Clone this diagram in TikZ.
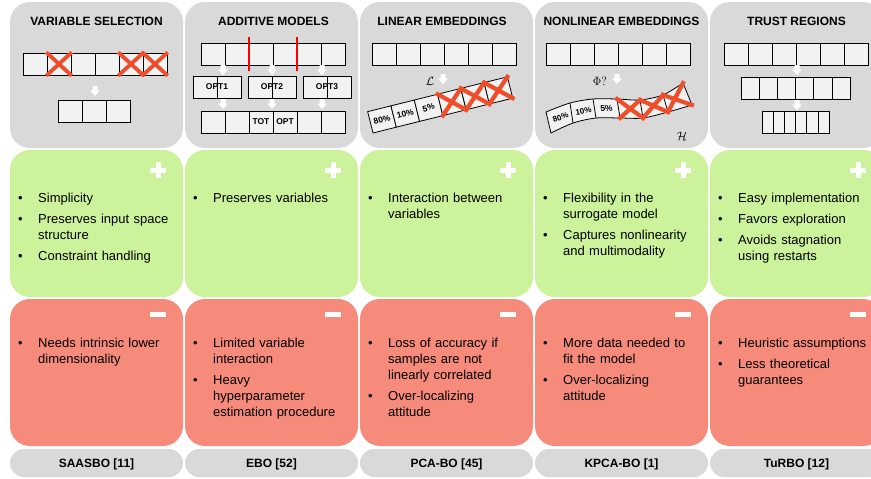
\documentclass[tikz,border=0pt]{standalone}
\usepackage{fontspec}
\setmainfont{Liberation Sans}
\usetikzlibrary{positioning}

\definecolor{panelgray}{HTML}{D9D9D9}
\definecolor{progreen}{HTML}{CCF29B}
\definecolor{consred}{HTML}{F68B7B}
\definecolor{cellgray}{HTML}{F2F2F2}
\definecolor{crossred}{HTML}{F04E2A}

% a row of #3 boxes of width #4, top left corner at (#1,#2)
\newcommand{\cellrow}[4]{\foreach \k in {1,...,#3} \draw[cell] ({#1+(\k-1)*#4},#2) rectangle ++(#4,22);}
% small block arrow pointing down, tip below (#1,#2)
\newcommand{\hintarrow}[2]{\fill[hint] (#1,#2) ++(-2.5,0) -- ++(5,0) -- ++(0,4.5) -- ++(2.5,0) -- ++(-5,5.5) -- ++(-5,-5.5) -- ++(2.5,0) -- cycle;}
% one bullet point
\newcommand{\entry}[1]{\noindent\hangindent=20pt\hangafter=1\makebox[20pt][l]{\textbullet}#1\par\vspace{5pt}}

\begin{document}
\begin{tikzpicture}[x=1pt,y=-1pt,
  panel/.style={rounded corners=20pt},
  cell/.style={draw=black,fill=cellgray,line width=0.8pt},
  cross/.style={draw=crossred,line width=3.8pt,shorten <=-1pt,shorten >=-1pt},
  bigcross/.style={cross,line width=4.2pt,shorten <=-2pt,shorten >=-2pt},
  hint/.style={fill=white},
  head/.style={font=\bfseries\fontsize{12}{14}\selectfont},
  tag/.style={font=\bfseries\fontsize{8.5}{10}\selectfont,inner sep=0pt},
  sym/.style={font=\fontsize{13}{15}\selectfont,inner sep=0pt},
  points/.style={anchor=base west,text width=160pt,align=left,inner sep=0pt,
    font=\fontsize{13}{16}\selectfont},
  method/.style={anchor=base,font=\bfseries\fontsize{12}{14}\selectfont}]
  \useasboundingbox (0,0) rectangle (871,479);
  \clip (0,0) rectangle (871,479);
  \fill[white] (0,0) rectangle (871,479);

  % the five columns
  \foreach \x in {10,185,360,535,710} {
    \fill[panelgray,panel] (\x,2) rectangle ++(173,146);
    \fill[progreen,panel] (\x,150) rectangle ++(173,147);
    \fill[consred,panel] (\x,299) rectangle ++(173,147);
    \fill[panelgray,rounded corners=14pt] (\x,449) rectangle ++(173,28);
    % plus / minus marks
    \fill[white] (\x+140,167.5) rectangle ++(16,5);
    \fill[white] (\x+145.5,162) rectangle ++(5,16);
    \fill[white] (\x+140,311.5) rectangle ++(16,5);
  }

  \node[head] (h1) at (96.5,21) {VARIABLE SELECTION};
  \node[head] (h2) at (273.5,21) {ADDITIVE MODELS};
  \node[head] (h3) at (442,21) {LINEAR EMBEDDINGS};
  \node[head] (h4) at (621.5,21) {NONLINEAR EMBEDDINGS};
  \node[head] (h5) at (796.5,21) {TRUST REGIONS};

  % variable selection
  \cellrow{23}{53}{6}{24}
  \foreach \k in {1,4,5} {
    \draw[cross] ({23+24*\k},53) -- ++(24,22);
    \draw[cross] ({47+24*\k},53) -- ++(-24,22);
  }
  \hintarrow{95}{86}
  \cellrow{58}{100}{3}{24}

  % additive models
  \cellrow{201}{43}{6}{24}
  \draw[red,line width=1.2pt] (249,37) -- (249,71) (297,37) -- (297,71);
  \foreach \x/\a in {193/223,248/272,303/322} {
    \hintarrow{\a}{65}
    \cellrow{\x}{76}{2}{24}
    \hintarrow{\a}{99}
  }
  \node[tag] (opt1) at (217,87) {OPT1};
  \node[tag] (opt2) at (272,87) {OPT2};
  \node[tag] (opt3) at (327,87) {OPT3};
  \cellrow{201}{111}{6}{24}
  \node[tag] (tot) at (261,122) {TOT};
  \node[tag] (totopt) at (285,122) {OPT};

  % linear embeddings
  \cellrow{372}{43}{6}{24}
  \node[sym] (lmap) at (430,81) {$\mathcal{L}$};
  \hintarrow{443}{74}
  \begin{scope}[shift={(373,133)},rotate=14]
    \cellrow{0}{-22}{6}{24}
    \node[tag,rotate=14] (lin80) at (12,-11) {80\%};
    \node[tag,rotate=14] (lin10) at (36,-11) {10\%};
    \node[tag,rotate=14] (lin5) at (60,-11) {5\%};
    \foreach \k in {3,4,5} {
      \draw[bigcross] ({24*\k},0) -- ++(24,-22);
      \draw[bigcross] ({24*\k},-22) -- ++(24,22);
    }
  \end{scope}

  % nonlinear embeddings
  \cellrow{546}{43}{6}{24}
  \node[sym] (phimap) at (600,81) {$\Phi?$};
  \hintarrow{617}{74}
  \foreach \px/\py [count=\i from 0] in {546/112,570/103,593/99,617/99,640/100,663/95,683/83}
    \coordinate (t\i) at (\px,\py);
  \foreach \px/\py [count=\i from 0] in {551/133,573/123,596/118,620/118,643/118,668/112,692/105}
    \coordinate (b\i) at (\px,\py);
  \filldraw[cell] plot[smooth,tension=0.5] coordinates {(t0) (t1) (t2) (t3) (t4) (t5) (t6)}
    -- plot[smooth,tension=0.5] coordinates {(b6) (b5) (b4) (b3) (b2) (b1) (b0)} -- cycle;
  \foreach \k in {1,...,5} \draw[line width=0.8pt] (t\k) -- (b\k);
  \node[tag,rotate=20,font=\bfseries\fontsize{8}{10}\selectfont] (nl80) at (560.5,117.5) {80\%};
  \node[tag,rotate=10,font=\bfseries\fontsize{8}{10}\selectfont] (nl10) at (583.5,111) {10\%};
  \node[tag,rotate=3] (nl5) at (606.5,108.5) {5\%};
  \foreach \k in {3,4,5} {
    \pgfmathtruncatemacro\n{\k+1}
    \draw[bigcross] (t\k) -- (b\n);
    \draw[bigcross] (b\k) -- (t\n);
  }
  \node[sym] (space) at (682,136) {$\mathcal{H}$};

  % trust regions
  \cellrow{724}{43}{6}{24}
  \hintarrow{797}{65}
  \cellrow{741}{77}{6}{18.2}
  \hintarrow{797}{100}
  \cellrow{762}{111}{6}{11.2}

  % advantages
  \node[points] (pro1) at (18,202) {\entry{Simplicity}\entry{Preserves input space\newline structure}\entry{Constraint handling}};
  \node[points] (pro2) at (193,202) {\entry{Preserves variables}};
  \node[points] (pro3) at (368,202) {\entry{Interaction between\newline variables}};
  \node[points] (pro4) at (543,202) {\entry{Flexibility in the\newline surrogate model}\entry{Captures nonlinearity\newline and multimodality}};
  \node[points] (pro5) at (718,202) {\entry{Easy implementation}\entry{Favors exploration}\entry{Avoids stagnation\newline using restarts}};

  % drawbacks
  \node[points] (con1) at (18,347) {\entry{Needs intrinsic lower\newline dimensionality}};
  \node[points] (con2) at (193,347) {\entry{Limited variable\newline interaction}\entry{Heavy\newline hyperparameter\newline estimation procedure}};
  \node[points] (con3) at (368,347) {\entry{Loss of accuracy if\newline samples are not\newline linearly correlated}\entry{Over-localizing\newline attitude}};
  \node[points] (con4) at (543,347) {\entry{More data needed to\newline fit the model}\entry{Over-localizing\newline attitude}};
  \node[points] (con5) at (718,347) {\entry{Heuristic assumptions}\entry{Less theoretical\newline guarantees}};

  \node[method] (m1) at (96.5,467.5) {SAASBO [11]};
  \node[method] (m2) at (271.5,467.5) {EBO [52]};
  \node[method] (m3) at (446.5,467.5) {PCA-BO [45]};
  \node[method] (m4) at (621.5,467.5) {KPCA-BO [1]};
  \node[method] (m5) at (796.5,467.5) {TuRBO [12]};
\end{tikzpicture}
\end{document}
